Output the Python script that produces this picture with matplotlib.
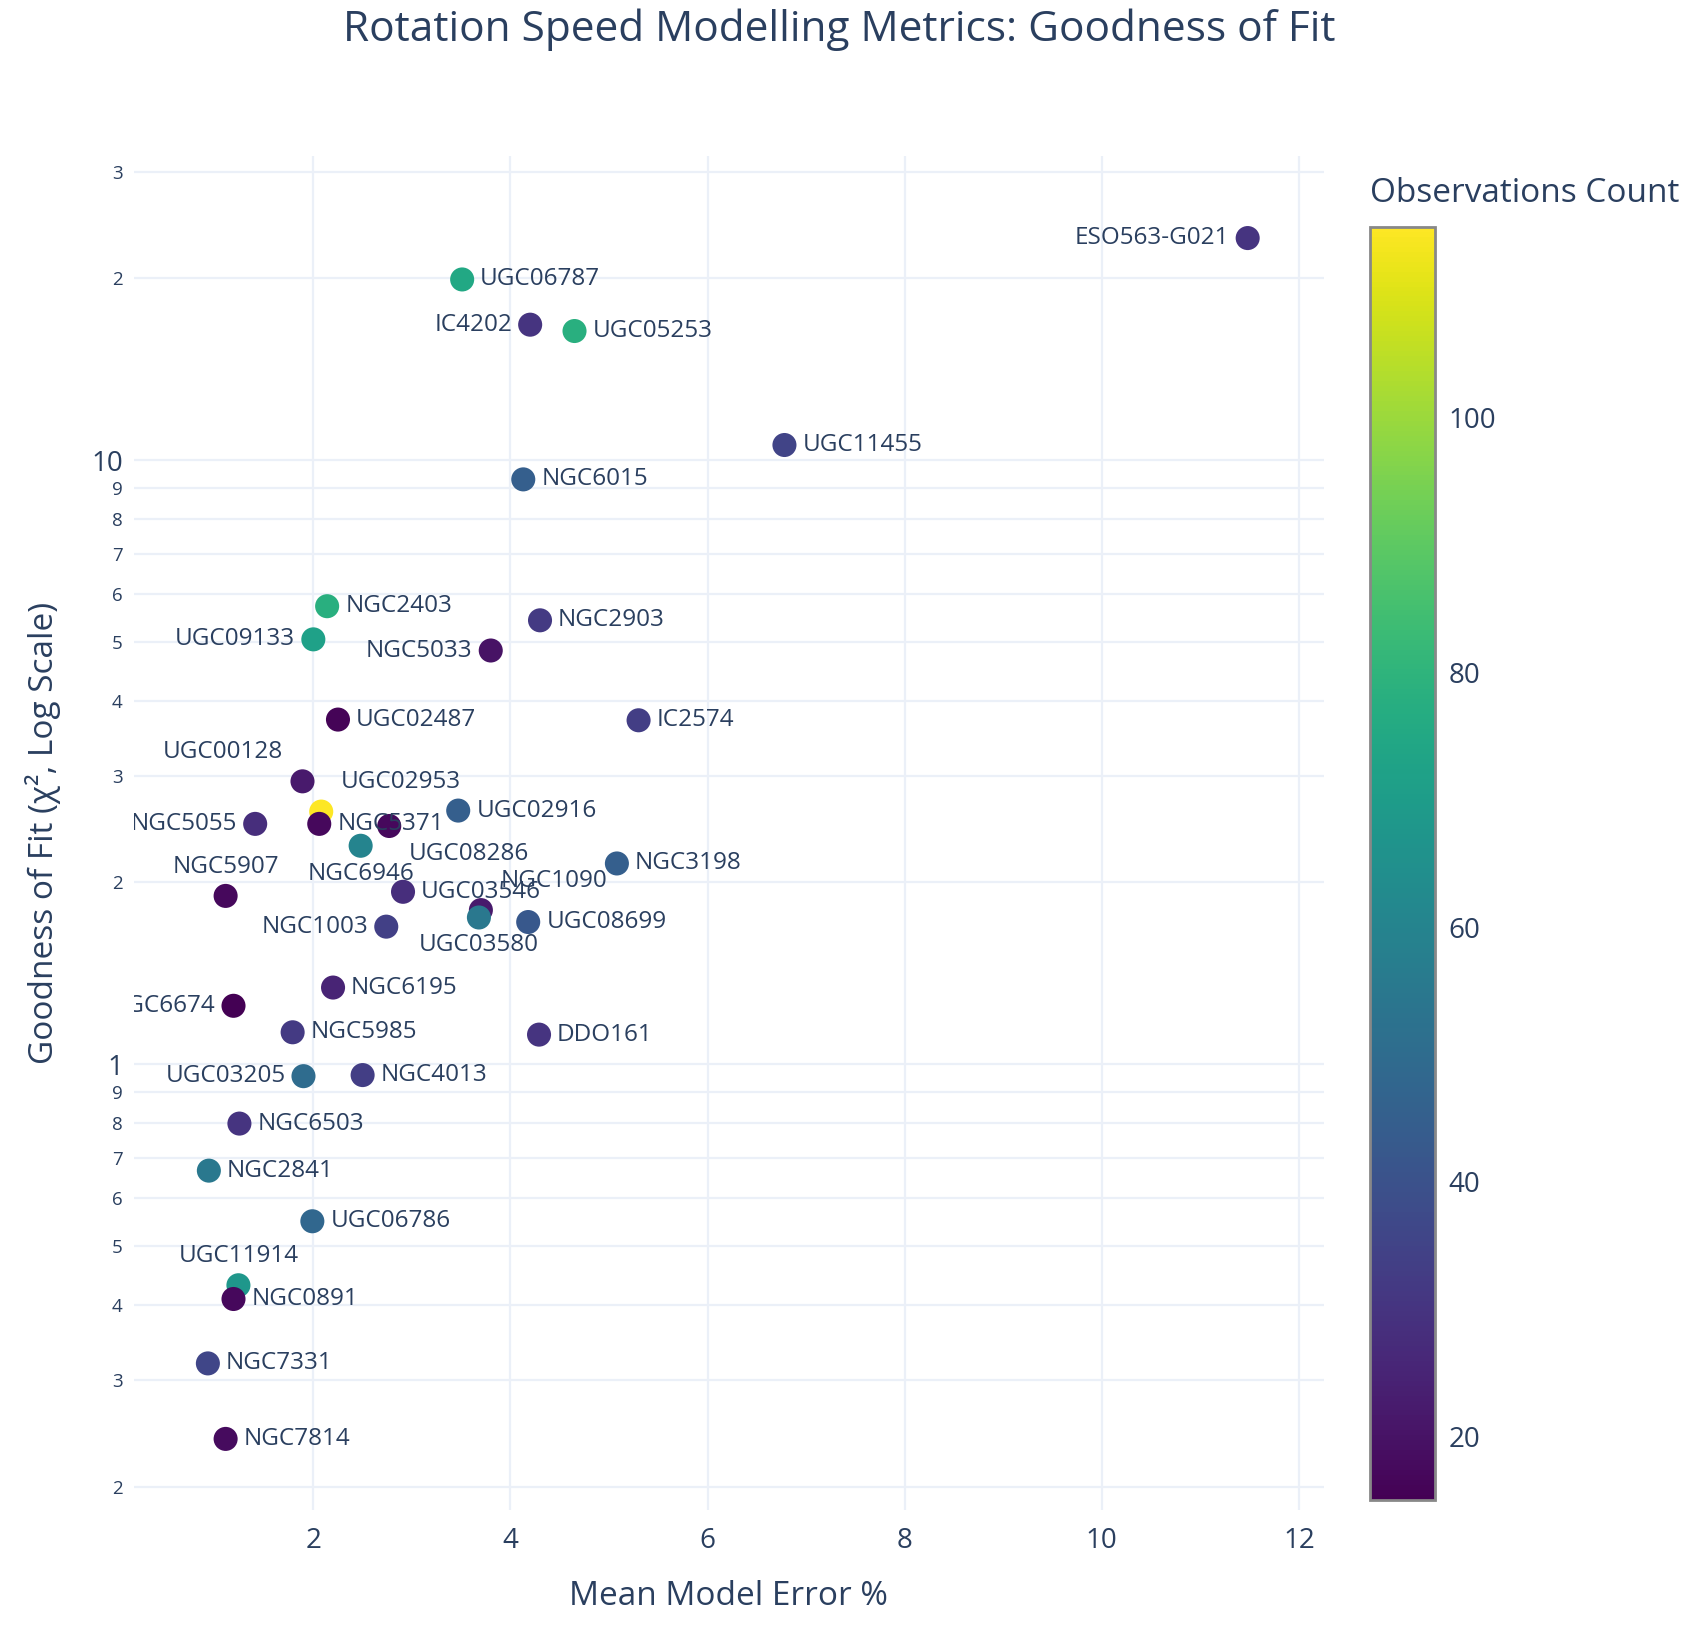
import matplotlib

matplotlib.use("Agg")
import matplotlib.pyplot as plt
import numpy as np

plt.rcParams["font.family"] = ["Open Sans", "DejaVu Sans"]

# galaxies: mean model error %, chi^2 goodness of fit, observation count
names = ["ESO563-G021", "UGC06787", "IC4202", "UGC05253", "UGC11455", "NGC6015",
         "NGC2403", "NGC2903", "UGC09133", "NGC5033", "UGC02487", "IC2574",
         "UGC00128", "UGC02953", "NGC5371", "UGC08286", "NGC6946", "UGC02916",
         "NGC5055", "NGC3198", "NGC5907", "UGC03546", "NGC1090", "UGC03580",
         "UGC08699", "NGC1003", "NGC6195", "NGC6674", "NGC5985", "DDO161",
         "UGC03205", "NGC4013", "NGC6503", "NGC2841", "UGC06786", "UGC11914",
         "NGC0891", "NGC7331", "NGC7814"]
mean_err = [11.48, 3.51, 4.20, 4.65, 6.78, 4.13,
            2.14, 4.30, 2.00, 3.80, 2.25, 5.30,
            1.89, 2.08, 2.06, 2.77, 2.48, 3.47,
            1.41, 5.08, 1.11, 2.91, 3.70, 3.68,
            4.18, 2.74, 2.20, 1.19, 1.79, 4.29,
            1.90, 2.50, 1.25, 0.94, 1.99, 1.24,
            1.19, 0.93, 1.11]
chi2 = [23.3, 19.9, 16.75, 16.35, 10.59, 9.29,
        5.73, 5.43, 5.05, 4.84, 3.72, 3.71,
        2.94, 2.62, 2.50, 2.48, 2.30, 2.63,
        2.50, 2.15, 1.90, 1.93, 1.80, 1.75,
        1.72, 1.69, 1.34, 1.25, 1.13, 1.12,
        0.956, 0.96, 0.798, 0.667, 0.55, 0.431,
        0.409, 0.320, 0.240]
obs_count = [30, 75, 30, 78, 35, 45,
             78, 32, 72, 20, 16, 33,
             22, 115, 17, 17, 60, 45,
             28, 45, 17, 28, 22, 55,
             42, 34, 25, 15, 32, 30,
             50, 33, 30, 55, 48, 68,
             17, 36, 18]
text_pos = ["middle left", "middle right", "middle left", "middle right", "middle right", "middle right",
            "middle right", "middle right", "middle left", "middle left", "middle right", "middle right",
            "top left", "top right", "middle right", "bottom right", "bottom center", "middle right",
            "middle left", "middle right", "top center", "middle right", "top right", "bottom center",
            "middle right", "middle left", "middle right", "middle left", "middle right", "middle right",
            "middle left", "middle right", "middle right", "middle right", "middle right", "top center",
            "middle right", "middle right", "middle right"]

TXT = "#2a3f5f"
GRID = "#ebf0f8"

fig = plt.figure(figsize=(16.85, 16.26), dpi=100)
ax = fig.add_axes([0.0795, 0.0713, 0.706, 0.833])
cax = fig.add_axes([0.813, 0.0775, 0.0386, 0.783])

sc = ax.scatter(mean_err, chi2, c=obs_count, cmap="viridis", s=300,
                vmin=min(obs_count), vmax=max(obs_count), zorder=3, linewidths=0)

offs = {"middle right": (13, 0, "left", "center"),
        "middle left": (-13, 0, "right", "center"),
        "top center": (0, 21, "center", "center"),
        "bottom center": (0, -20, "center", "center"),
        "top left": (-14, 21, "right", "center"),
        "top right": (14, 21, "left", "center"),
        "bottom right": (14, -20, "left", "center")}
for n, x, y, p in zip(names, mean_err, chi2, text_pos):
    dx, dy, ha, va = offs[p]
    ax.annotate(n, (x, y), xytext=(dx, dy), textcoords="offset points",
                ha=ha, va=va, fontsize=17.5, color=TXT, zorder=4,
                annotation_clip=False, clip_on=True)

ax.set_yscale("log")
ax.set_xlim(0.18, 12.25)
ax.set_ylim(0.183, 31.9)

yt = [0.2, 0.3, 0.4, 0.5, 0.6, 0.7, 0.8, 0.9, 1, 2, 3, 4, 5, 6, 7, 8, 9, 10, 20, 30]
ylab = ["2", "3", "4", "5", "6", "7", "8", "9", "1", "2", "3", "4", "5", "6", "7", "8", "9",
        "10", "2", "3"]
ax.set_yticks(yt, ylab)
ax.yaxis.set_minor_locator(matplotlib.ticker.NullLocator())
for v, t in zip(yt, ax.get_yticklabels()):
    t.set_fontsize(20 if v in (1, 10) else 13.5)
ax.set_xticks([2, 4, 6, 8, 10, 12])
ax.tick_params(axis="x", labelsize=20, colors=TXT, length=0, pad=12)
ax.tick_params(axis="y", colors=TXT, length=0, pad=8)
ax.grid(True, color=GRID, linewidth=1.6, zorder=0)
ax.set_axisbelow(True)
for s in ax.spines.values():
    s.set_visible(False)

ax.set_xlabel("Mean Model Error %", fontsize=24, color=TXT, labelpad=18)
ax.set_ylabel("Goodness of Fit (χ², Log Scale)", fontsize=24, color=TXT, labelpad=22)
fig.text(0.498, 0.982, "Rotation Speed Modelling Metrics: Goodness of Fit",
         ha="center", va="center", fontsize=30.5, color=TXT)

cb = fig.colorbar(sc, cax=cax)
cb.set_ticks([20, 40, 60, 80, 100])
cb.ax.tick_params(labelsize=20, colors=TXT, length=0, pad=10)
cb.outline.set_edgecolor("#888888")
cb.outline.set_linewidth(2)
fig.text(0.813, 0.881, "Observations Count", ha="left", va="center",
         fontsize=24, color=TXT)

fig.savefig("out.png", dpi=100, facecolor="white")
